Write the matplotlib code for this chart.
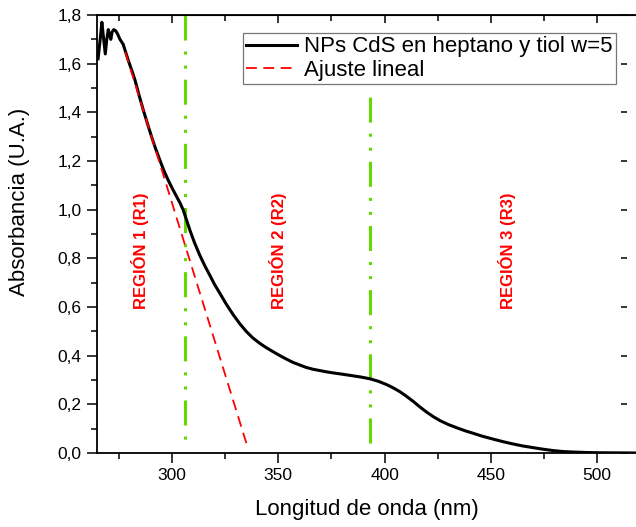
import matplotlib
matplotlib.use('Agg')
import matplotlib.pyplot as plt
from matplotlib.ticker import MultipleLocator, FuncFormatter

plt.rcParams['font.family'] = ['Liberation Sans', 'DejaVu Sans']

# espectro de absorcion
wl = [265.2, 266.2, 267.0, 267.6, 268.6, 269.3, 270.0, 270.6, 271.2, 271.8, 272.6, 273.5,
      274.5, 275.5, 277.0, 279.4, 281.0, 282.6, 284.5, 286.5, 288.5, 290.4, 292.3, 294.3,
      296.2, 298.2, 300.2, 302.2, 303.8, 305.3, 308.4, 310.5, 313.1, 315.5, 317.8, 320.0,
      322.6, 325.5, 328.8, 332.0, 335.1, 338.0, 341.4, 344.5, 347.6, 351.0, 354.0, 357.0,
      360.0, 363.0, 366.4, 370.0, 373.0, 376.0, 380.0, 385.3, 389.0, 393.1, 397.0, 401.0,
      404.0, 407.2, 410.0, 413.5, 416.5, 419.8, 423.0, 426.1, 430.0, 433.9, 438.0, 441.7,
      446.0, 451.1, 456.0, 460.5, 465.0, 469.9, 475.0, 479.3, 484.0, 488.7, 495.0, 501.3,
      510.0, 518.0]
absb = [1.62, 1.70, 1.77, 1.72, 1.64, 1.70, 1.74, 1.72, 1.70, 1.73, 1.74, 1.735,
        1.72, 1.70, 1.68, 1.614, 1.574, 1.532, 1.470, 1.409, 1.352, 1.299, 1.250, 1.203,
        1.160, 1.121, 1.086, 1.053, 1.027, 0.998, 0.916, 0.866, 0.812, 0.768, 0.730, 0.693,
        0.655, 0.612, 0.568, 0.530, 0.498, 0.473, 0.450, 0.432, 0.416, 0.399, 0.385, 0.372,
        0.362, 0.352, 0.344, 0.338, 0.333, 0.329, 0.324, 0.317, 0.312, 0.305, 0.295, 0.281,
        0.268, 0.252, 0.235, 0.212, 0.190, 0.168, 0.149, 0.133, 0.117, 0.104, 0.091, 0.081,
        0.069, 0.057, 0.046, 0.037, 0.029, 0.022, 0.015, 0.010, 0.006, 0.004, 0.002, 0.001,
        0.0005, 0.0]

# ajuste lineal
fit_x = [278.0, 335.0]
fit_y = [1.648, 0.04]

# limites de las regiones
bound_x = [306.0, 393.0]
bound_top = [1.8, 1.47]
bound_bottom = 0.04

region_names = ['REGIÓN 1 (R1)', 'REGIÓN 2 (R2)', 'REGIÓN 3 (R3)']
region_x = [285.0, 350.0, 457.5]
region_y = 0.83

W, H = 636, 527
fig = plt.figure(figsize=(W / 100, H / 100), dpi=100)
ax = fig.add_axes([97 / W, 1 - 453 / H, (W - 97) / W, (453 - 15) / H])

ax.plot(wl, absb, color='black', lw=2.2, solid_joinstyle='round',
        label='NPs CdS en heptano y tiol w=5', zorder=3)
ax.plot(fit_x, fit_y, color='red', lw=1.3, ls=(0, (6, 3.6)), label='Ajuste lineal', zorder=4)

green = '#63d900'
for bx, top in zip(bound_x, bound_top):
    ys = [top, bound_bottom] if top == 1.8 else [bound_bottom, top]
    ax.plot([bx, bx], ys, color=green, lw=2.2, ls=(0, (8.2, 3.6, 1, 3.6, 1, 3.6)),
            clip_on=False, zorder=2)

for name, rx in zip(region_names, region_x):
    ax.text(rx, region_y, name, rotation=90, color='red', fontsize=12, fontweight='bold',
            ha='center', va='center')

ax.set_xlim(264.7, 518.3)
ax.set_ylim(0, 1.8)
ax.xaxis.set_major_locator(MultipleLocator(50))
ax.xaxis.set_minor_locator(MultipleLocator(25))
ax.yaxis.set_major_locator(MultipleLocator(0.2))
ax.yaxis.set_minor_locator(MultipleLocator(0.1))
ax.yaxis.set_major_formatter(FuncFormatter(lambda v, p: f'{v:.1f}'.replace('.', ',')))
ax.tick_params(which='major', direction='out', length=7, width=1.1, labelsize=12.5, pad=4)
ax.tick_params(which='minor', direction='out', length=4, width=1.1)
ax.spines['right'].set_visible(False)
for s in ['left', 'bottom', 'top']:
    ax.spines[s].set_linewidth(1.3)

top = ax.secondary_xaxis('top')
top.xaxis.set_major_locator(MultipleLocator(50))
top.xaxis.set_minor_locator(MultipleLocator(25))
top.tick_params(which='major', direction='in', length=6, width=1.1, labeltop=False)
top.tick_params(which='minor', direction='in', length=4, width=1.1)

right = ax.secondary_yaxis((627 - 97) / (W - 97))
right.yaxis.set_major_locator(MultipleLocator(0.2))
right.tick_params(direction='in', length=4.5, width=1.1, labelright=False)
for s in right.spines.values():
    s.set_visible(False)

ax.set_xlabel('Longitud de onda (nm)', fontsize=16, labelpad=11)
ax.set_ylabel('Absorbancia (U.A.)', fontsize=16)
ax.yaxis.set_label_coords(-0.125, 0.574)

leg = ax.legend(loc='upper left', bbox_to_anchor=(243 / W, 1 - 33 / H),
                bbox_transform=fig.transFigure, fontsize=16, frameon=True, fancybox=False,
                borderpad=0.15, borderaxespad=0, handlelength=2.3, handletextpad=0.3,
                labelspacing=0.1)
leg.get_frame().set_edgecolor('#555555')
leg.get_frame().set_linewidth(0.9)

fig.savefig('out.png', dpi=100)
